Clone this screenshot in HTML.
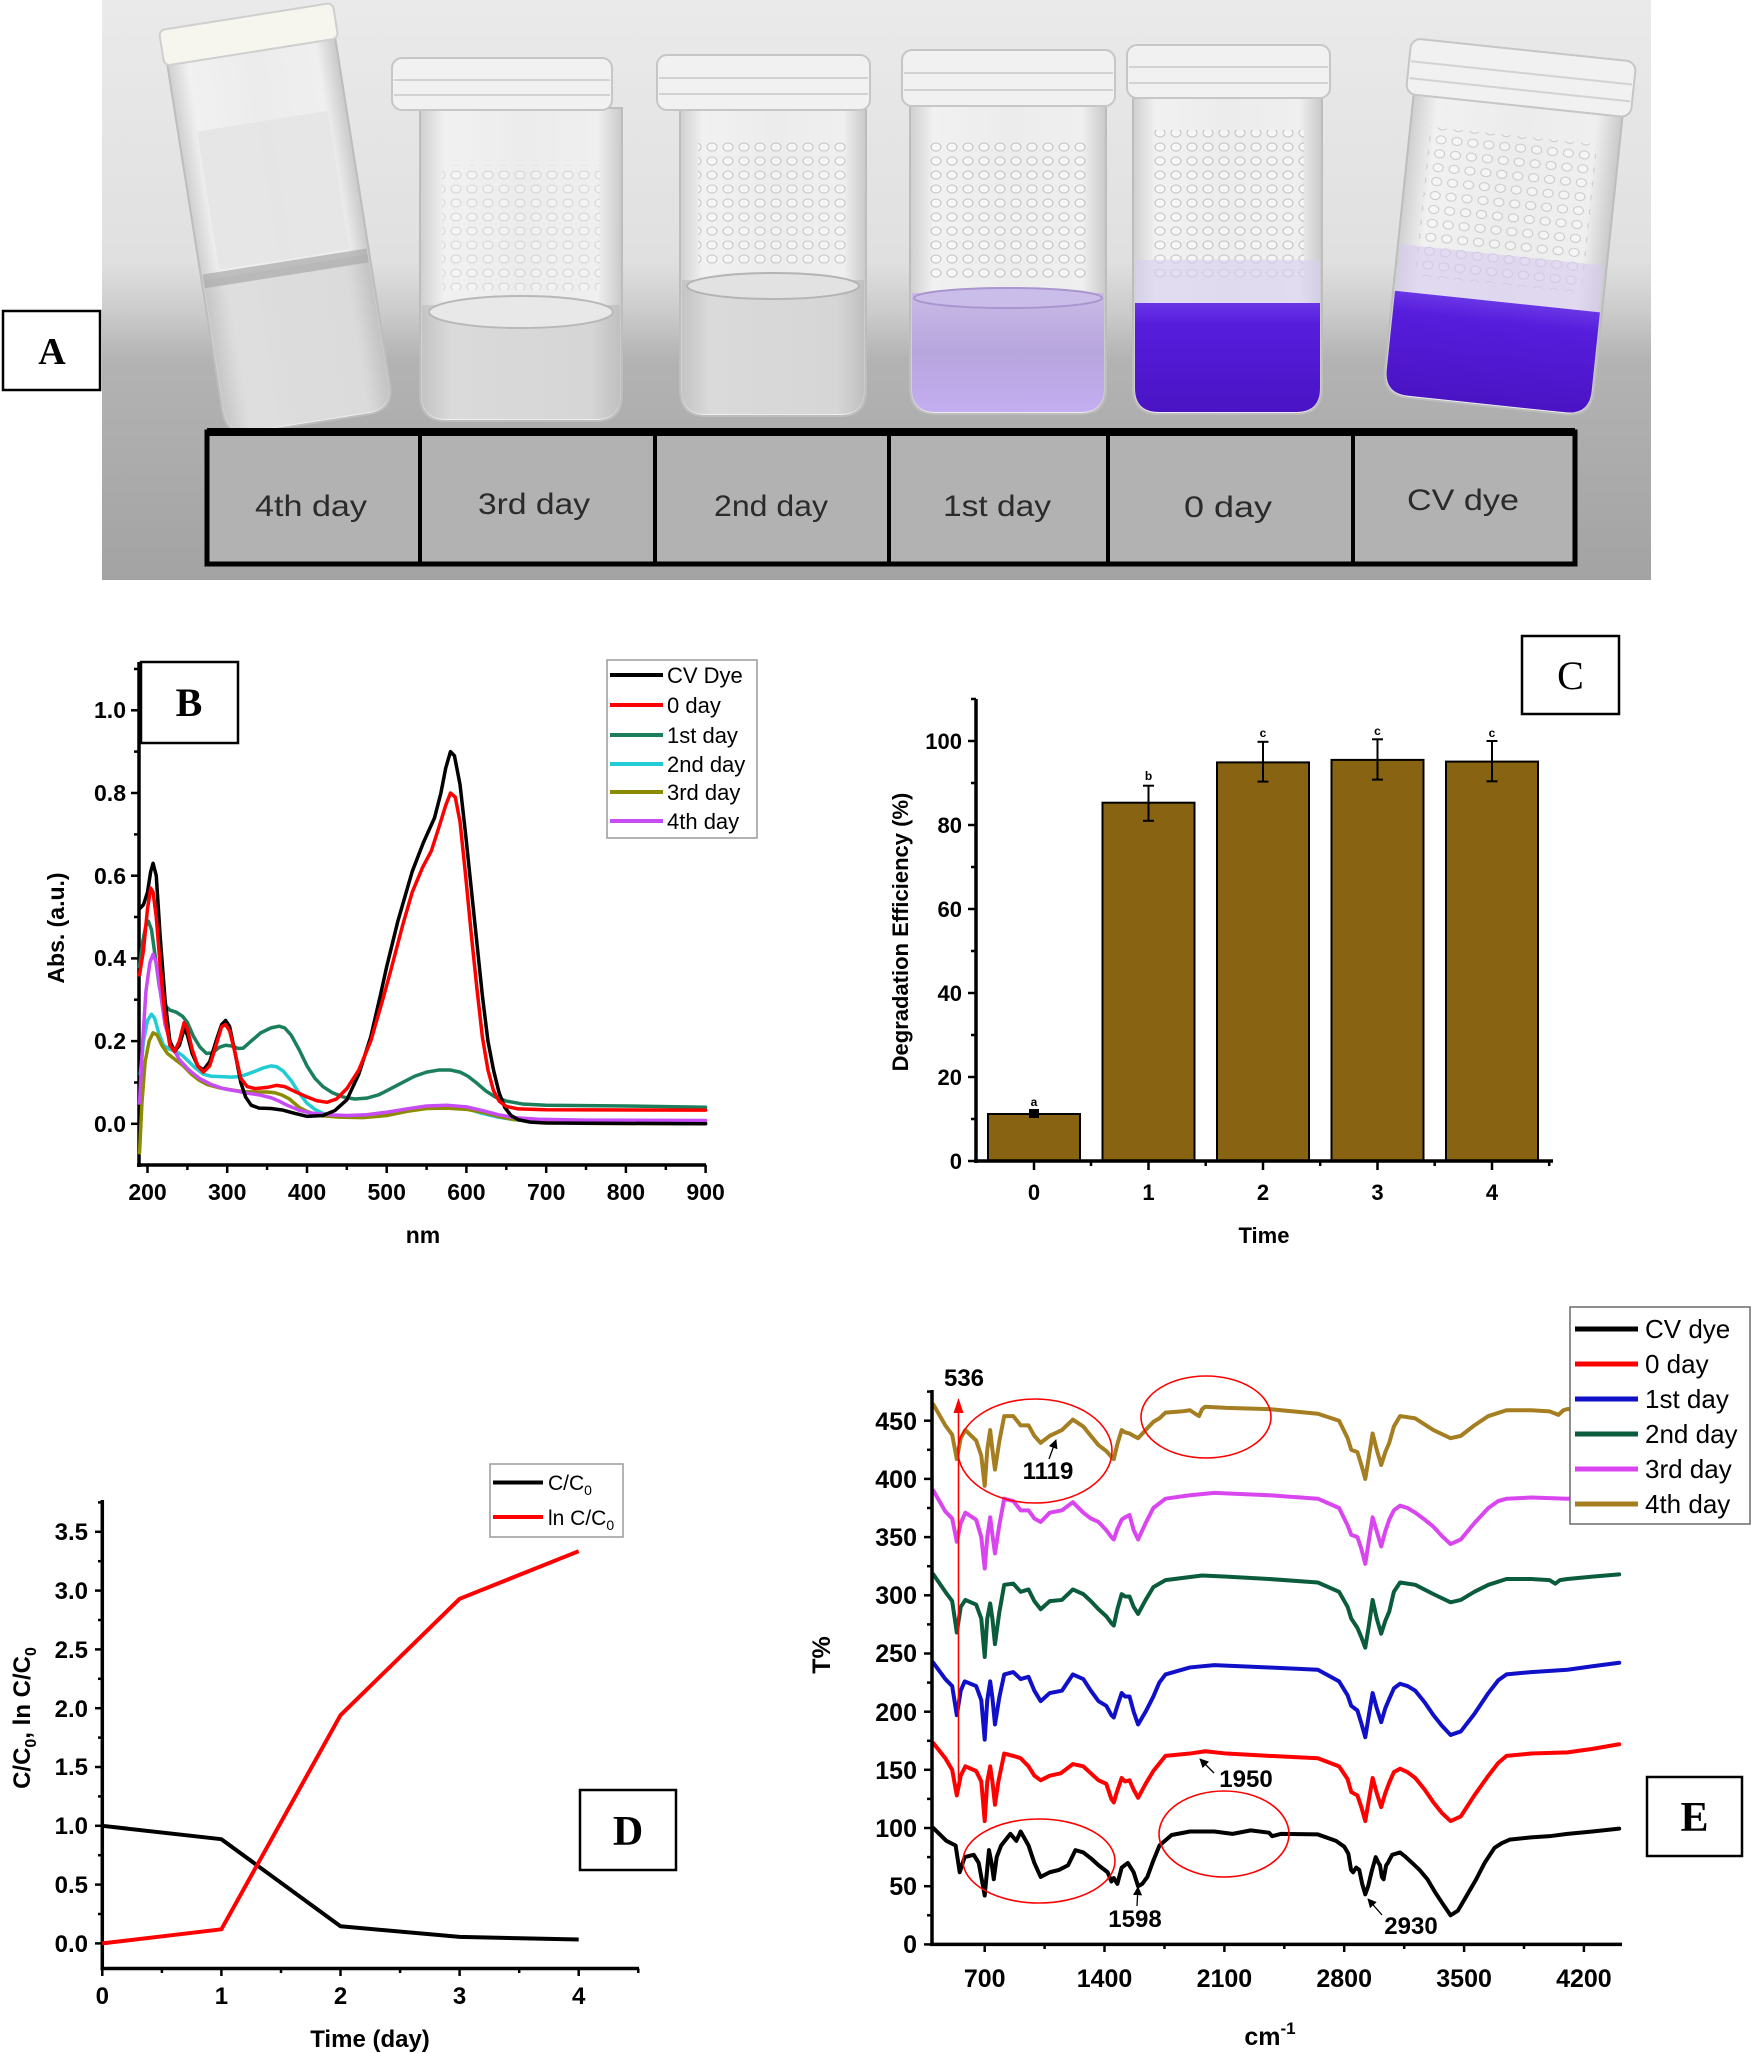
<!DOCTYPE html>
<html><head><meta charset="utf-8"><style>
html,body{margin:0;padding:0;background:#fff;}
svg{display:block;}
text{font-family:"Liberation Sans",Arial,sans-serif;}
.ser{font-family:"Liberation Serif","Times New Roman",serif;font-weight:bold;}
.tk{font-weight:bold;}
</style></head><body>
<svg width="1751" height="2053" viewBox="0 0 1751 2053" xmlns="http://www.w3.org/2000/svg">
<defs>
<linearGradient id="wall" gradientUnits="userSpaceOnUse" x1="0" y1="0" x2="0" y2="580">
<stop offset="0" stop-color="#eaeaea"/><stop offset="0.45" stop-color="#e0e0e0"/><stop offset="0.54" stop-color="#cbcbcb"/><stop offset="0.62" stop-color="#b3b3b3"/><stop offset="1" stop-color="#a3a3a3"/>
</linearGradient>
<linearGradient id="glass" x1="0" y1="0" x2="1" y2="0">
<stop offset="0" stop-color="#cfcfcf"/><stop offset="0.12" stop-color="#f1f1f1"/><stop offset="0.5" stop-color="#ececec"/><stop offset="0.88" stop-color="#efefef"/><stop offset="1" stop-color="#c9c9c9"/>
</linearGradient>
<linearGradient id="clear" x1="0" y1="0" x2="1" y2="0">
<stop offset="0" stop-color="#c4c4c4"/><stop offset="0.15" stop-color="#dadada"/><stop offset="0.85" stop-color="#d6d6d6"/><stop offset="1" stop-color="#c0c0c0"/>
</linearGradient>
<linearGradient id="purp" x1="0" y1="0" x2="0" y2="1">
<stop offset="0" stop-color="#6a35e6"/><stop offset="0.2" stop-color="#561ddc"/><stop offset="1" stop-color="#4a14c4"/>
</linearGradient>
<linearGradient id="lpurp" x1="0" y1="0" x2="0" y2="1">
<stop offset="0" stop-color="#c9bae6"/><stop offset="0.5" stop-color="#b7a5de"/><stop offset="1" stop-color="#c3aef0"/>
</linearGradient>
<pattern id="bub" width="16" height="14" patternUnits="userSpaceOnUse">
<ellipse cx="8" cy="7" rx="5" ry="4" fill="#fbfbfb" stroke="#a2a2a2" stroke-width="1"/>
</pattern>
<marker id="ar" viewBox="0 0 10 10" refX="9" refY="5" markerWidth="7" markerHeight="7" orient="auto-start-reverse">
<path d="M0,0 L10,5 L0,10 z" fill="#000"/>
</marker>
</defs>

<!-- ================= PANEL A ================= -->
<rect x="102" y="0" width="1549" height="580" fill="url(#wall)"/>

<!-- vial 1: 4th day (tilted) -->
<g transform="rotate(-9 278 220)">
<path d="M193,48 L193,400 Q193,426 219,426 L337,426 Q363,426 363,400 L363,48 Z" fill="url(#glass)" stroke="#bdbdbd" stroke-width="2"/>
<rect x="212" y="120" width="132" height="140" fill="#e4e4e4" opacity="0.8"/>
<path d="M195,268 L361,268 L361,400 Q361,424 337,424 L219,424 Q195,424 195,400 Z" fill="url(#clear)" opacity="0.8"/>
<rect x="195" y="262" width="166" height="14" fill="#a9a9a9" opacity="0.7"/>
<rect x="190" y="14" width="176" height="36" rx="6" fill="#f6f6ef" stroke="#cfcfcf" stroke-width="2"/>
</g>

<!-- vial 2: 3rd day -->
<path d="M420,108 L420,395 Q420,421 446,421 L596,421 Q622,421 622,395 L622,108 Z" fill="url(#glass)" stroke="#bdbdbd" stroke-width="2"/>
<rect x="442" y="165" width="158" height="125" fill="url(#bub)" opacity="0.35"/>
<path d="M422,305 L620,305 L620,395 Q620,419 596,419 L446,419 Q422,419 422,395 Z" fill="url(#clear)"/>
<ellipse cx="521" cy="312" rx="92" ry="16" fill="#e8e8e8" stroke="#b8b8b8" stroke-width="2"/>
<rect x="392" y="58" width="220" height="52" rx="10" fill="#f1f1f1" stroke="#c6c6c6" stroke-width="2"/>
<line x1="394" y1="80" x2="610" y2="80" stroke="#d2d2d2" stroke-width="2"/>
<line x1="394" y1="95" x2="610" y2="95" stroke="#d2d2d2" stroke-width="2"/>

<!-- vial 3: 2nd day -->
<path d="M680,108 L680,390 Q680,416 706,416 L840,416 Q866,416 866,390 L866,108 Z" fill="url(#glass)" stroke="#bdbdbd" stroke-width="2"/>
<rect x="698" y="140" width="150" height="125" fill="url(#bub)" opacity="0.55"/>
<path d="M682,280 L864,280 L864,390 Q864,414 840,414 L706,414 Q682,414 682,390 Z" fill="url(#clear)"/>
<ellipse cx="773" cy="286" rx="86" ry="13" fill="#e2e2e2" stroke="#b4b4b4" stroke-width="2"/>
<rect x="657" y="55" width="213" height="55" rx="10" fill="#f1f1f1" stroke="#c6c6c6" stroke-width="2"/>
<line x1="659" y1="78" x2="868" y2="78" stroke="#d2d2d2" stroke-width="2"/>
<line x1="659" y1="94" x2="868" y2="94" stroke="#d2d2d2" stroke-width="2"/>

<!-- vial 4: 1st day -->
<path d="M910,106 L910,388 Q910,414 936,414 L1080,414 Q1106,414 1106,388 L1106,106 Z" fill="url(#glass)" stroke="#bdbdbd" stroke-width="2"/>
<rect x="930" y="140" width="156" height="140" fill="url(#bub)" opacity="0.6"/>
<path d="M912,293 L1104,293 L1104,388 Q1104,412 1080,412 L936,412 Q912,412 912,388 Z" fill="url(#lpurp)"/>
<ellipse cx="1008" cy="298" rx="94" ry="10" fill="#cbbdea" stroke="#a996cf" stroke-width="2"/>
<rect x="902" y="50" width="213" height="56" rx="10" fill="#f1f1f1" stroke="#c6c6c6" stroke-width="2"/>
<line x1="904" y1="73" x2="1113" y2="73" stroke="#d2d2d2" stroke-width="2"/>
<line x1="904" y1="90" x2="1113" y2="90" stroke="#d2d2d2" stroke-width="2"/>

<!-- vial 5: 0 day -->
<path d="M1133,98 L1133,388 Q1133,414 1159,414 L1296,414 Q1322,414 1322,388 L1322,98 Z" fill="url(#glass)" stroke="#bdbdbd" stroke-width="2"/>
<rect x="1152" y="130" width="152" height="150" fill="url(#bub)" opacity="0.6"/>
<rect x="1136" y="260" width="184" height="45" fill="#d8cff0" opacity="0.6"/>
<path d="M1135,303 L1320,303 L1320,388 Q1320,412 1296,412 L1159,412 Q1135,412 1135,388 Z" fill="url(#purp)"/>
<rect x="1127" y="45" width="203" height="53" rx="10" fill="#f1f1f1" stroke="#c6c6c6" stroke-width="2"/>
<line x1="1129" y1="67" x2="1328" y2="67" stroke="#d2d2d2" stroke-width="2"/>
<line x1="1129" y1="83" x2="1328" y2="83" stroke="#d2d2d2" stroke-width="2"/>

<!-- vial 6: CV dye (tilted) -->
<g transform="rotate(6 1505 230)">
<path d="M1400,104 L1400,381 Q1400,407 1426,407 L1584,407 Q1610,407 1610,381 L1610,104 Z" fill="url(#glass)" stroke="#bdbdbd" stroke-width="2"/>
<rect x="1420" y="135" width="168" height="150" fill="url(#bub)" opacity="0.5"/>
<rect x="1403" y="255" width="204" height="50" fill="#d5caf0" opacity="0.6"/>
<path d="M1402,302 L1608,302 L1608,381 Q1608,405 1584,405 L1426,405 Q1402,405 1402,381 Z" fill="url(#purp)"/>
<rect x="1392" y="49" width="226" height="56" rx="10" fill="#f1f1f1" stroke="#c6c6c6" stroke-width="2"/>
<line x1="1394" y1="72" x2="1616" y2="72" stroke="#d2d2d2" stroke-width="2"/>
<line x1="1394" y1="89" x2="1616" y2="89" stroke="#d2d2d2" stroke-width="2"/>
</g>

<!-- label table -->
<rect x="207" y="432" width="1368" height="132" fill="#b2b2b2" stroke="#000" stroke-width="5"/>
<line x1="207" y1="432" x2="1575" y2="432" stroke="#000" stroke-width="8"/>
<g stroke="#000" stroke-width="4">
<line x1="420" y1="432" x2="420" y2="564"/>
<line x1="655" y1="432" x2="655" y2="564"/>
<line x1="889" y1="432" x2="889" y2="564"/>
<line x1="1108" y1="432" x2="1108" y2="564"/>
<line x1="1353" y1="432" x2="1353" y2="564"/>
</g>
<g font-size="30" fill="#2b2b2b" text-anchor="middle">
<text x="311" y="516" textLength="112" lengthAdjust="spacingAndGlyphs">4th day</text>
<text x="534" y="514" textLength="112" lengthAdjust="spacingAndGlyphs">3rd day</text>
<text x="771" y="516" textLength="114" lengthAdjust="spacingAndGlyphs">2nd day</text>
<text x="997" y="516" textLength="108" lengthAdjust="spacingAndGlyphs">1st day</text>
<text x="1228" y="517" textLength="88" lengthAdjust="spacingAndGlyphs">0 day</text>
<text x="1463" y="510" textLength="112" lengthAdjust="spacingAndGlyphs">CV dye</text>
</g>
<!-- A box -->
<rect x="3" y="311" width="97" height="79" fill="#fff" stroke="#000" stroke-width="2.5"/>
<text class="ser" x="52" y="364" font-size="38" text-anchor="middle">A</text>

<!-- ================= PANEL B ================= -->
<g stroke="#000" stroke-width="3.5" fill="none">
<line x1="139" y1="662" x2="139" y2="1167"/>
<line x1="137" y1="1165" x2="706" y2="1165"/>
</g>
<g stroke="#000" stroke-width="2.5">
<line x1="131" y1="1123.8" x2="139" y2="1123.8"/><line x1="131" y1="1041.1" x2="139" y2="1041.1"/><line x1="131" y1="958.4" x2="139" y2="958.4"/><line x1="131" y1="875.7" x2="139" y2="875.7"/><line x1="131" y1="793" x2="139" y2="793"/><line x1="131" y1="710.3" x2="139" y2="710.3"/>
<line x1="134" y1="1082.5" x2="139" y2="1082.5"/><line x1="134" y1="999.7" x2="139" y2="999.7"/><line x1="134" y1="917" x2="139" y2="917"/><line x1="134" y1="834.4" x2="139" y2="834.4"/><line x1="134" y1="751.6" x2="139" y2="751.6"/><line x1="134" y1="669" x2="139" y2="669"/>
<line x1="147.5" y1="1165" x2="147.5" y2="1173"/><line x1="227.2" y1="1165" x2="227.2" y2="1173"/><line x1="307" y1="1165" x2="307" y2="1173"/><line x1="386.7" y1="1165" x2="386.7" y2="1173"/><line x1="466.4" y1="1165" x2="466.4" y2="1173"/><line x1="546.2" y1="1165" x2="546.2" y2="1173"/><line x1="625.9" y1="1165" x2="625.9" y2="1173"/><line x1="705.6" y1="1165" x2="705.6" y2="1173"/>
<line x1="187.4" y1="1165" x2="187.4" y2="1170"/><line x1="267.1" y1="1165" x2="267.1" y2="1170"/><line x1="346.8" y1="1165" x2="346.8" y2="1170"/><line x1="426.6" y1="1165" x2="426.6" y2="1170"/><line x1="506.3" y1="1165" x2="506.3" y2="1170"/><line x1="586" y1="1165" x2="586" y2="1170"/><line x1="665.8" y1="1165" x2="665.8" y2="1170"/>
</g>
<g class="tk" font-size="23" text-anchor="end">
<text x="126" y="1132">0.0</text><text x="126" y="1049">0.2</text><text x="126" y="966">0.4</text><text x="126" y="884">0.6</text><text x="126" y="801">0.8</text><text x="126" y="718">1.0</text>
</g>
<g class="tk" font-size="23" text-anchor="middle">
<text x="147.5" y="1200">200</text><text x="227.2" y="1200">300</text><text x="307" y="1200">400</text><text x="386.7" y="1200">500</text><text x="466.4" y="1200">600</text><text x="546.2" y="1200">700</text><text x="625.9" y="1200">800</text><text x="705.6" y="1200">900</text>
<text x="423" y="1243">nm</text>
<text transform="translate(64 928) rotate(-90)">Abs. (a.u.)</text>
</g>
<g transform="translate(-11.96 1123.8) scale(0.7973 -413.5)" fill="none" stroke-linejoin="round" stroke-linecap="round">
<polyline vector-effect="non-scaling-stroke" stroke="#1a7f5a" stroke-width="3.5" points="190,0.38 194,0.44 198,0.48 201,0.49 205,0.47 210,0.4 215,0.33 220,0.29 228,0.275 236,0.27 244,0.26 250,0.245 258,0.21 266,0.185 274,0.17 282,0.172 290,0.185 298,0.19 306,0.188 314,0.182 320,0.183 330,0.2 342,0.22 355,0.232 365,0.236 372,0.232 380,0.215 390,0.18 400,0.14 410,0.11 420,0.09 432,0.075 445,0.065 460,0.06 475,0.062 490,0.07 505,0.085 520,0.1 535,0.115 550,0.125 565,0.13 580,0.13 592,0.125 602,0.115 612,0.1 624,0.08 636,0.065 650,0.055 670,0.048 700,0.045 800,0.043 900,0.04"/>
<polyline vector-effect="non-scaling-stroke" stroke="#22ccd4" stroke-width="3.5" points="191,0.12 195,0.2 200,0.25 205,0.265 209,0.255 214,0.22 220,0.19 228,0.18 236,0.175 244,0.165 252,0.15 260,0.135 270,0.12 280,0.115 292,0.114 305,0.113 315,0.114 325,0.12 335,0.127 345,0.135 355,0.14 362,0.138 370,0.128 380,0.105 390,0.075 400,0.05 410,0.035 420,0.025 435,0.02 450,0.017 470,0.016 490,0.02 510,0.028 530,0.036 550,0.041 570,0.042 590,0.04 605,0.034 620,0.025 640,0.016 660,0.01 690,0.006 750,0.004 900,0.003"/>
<polyline vector-effect="non-scaling-stroke" stroke="#8c8c00" stroke-width="3.5" points="190,-0.07 193,0.05 197,0.15 202,0.2 207,0.22 212,0.215 218,0.19 225,0.17 235,0.155 245,0.14 255,0.12 265,0.105 275,0.095 290,0.087 305,0.082 320,0.078 335,0.077 350,0.077 360,0.075 368,0.07 378,0.06 390,0.04 400,0.03 415,0.02 440,0.016 470,0.015 500,0.02 525,0.03 550,0.037 575,0.038 600,0.035 620,0.028 640,0.018 660,0.01 690,0.004 750,0.001 900,0"/>
<polyline vector-effect="non-scaling-stroke" stroke="#c84cf5" stroke-width="3.5" points="190,0.05 194,0.2 198,0.32 203,0.39 207,0.41 211,0.39 216,0.32 222,0.24 230,0.19 240,0.155 252,0.13 265,0.11 280,0.095 295,0.085 310,0.08 325,0.074 340,0.07 355,0.063 365,0.055 375,0.045 390,0.033 405,0.026 425,0.022 450,0.02 475,0.022 500,0.028 525,0.036 550,0.043 575,0.045 600,0.041 620,0.032 640,0.022 660,0.015 690,0.011 750,0.009 900,0.008"/>
<polyline vector-effect="non-scaling-stroke" stroke="#000" stroke-width="3.5" points="190,0.52 195,0.53 200,0.56 204,0.61 207,0.63 211,0.6 216,0.45 222,0.3 228,0.2 234,0.175 240,0.19 246,0.23 250,0.215 256,0.17 263,0.14 270,0.13 278,0.15 286,0.2 293,0.24 298,0.25 303,0.235 310,0.17 317,0.1 323,0.065 330,0.045 340,0.038 355,0.037 370,0.033 385,0.025 400,0.018 420,0.02 435,0.032 450,0.058 465,0.12 480,0.21 492,0.31 500,0.38 514,0.49 532,0.61 546,0.68 560,0.74 568,0.8 574,0.86 580,0.9 585,0.89 592,0.82 599,0.7 606,0.57 613,0.44 620,0.31 627,0.2 634,0.13 641,0.075 648,0.04 656,0.02 665,0.01 680,0.004 700,0.002 900,0"/>
<polyline vector-effect="non-scaling-stroke" stroke="#ff0000" stroke-width="3.5" points="190,0.36 195,0.42 200,0.52 204,0.57 207,0.56 211,0.5 216,0.38 222,0.26 228,0.19 234,0.175 240,0.2 246,0.245 250,0.23 256,0.18 263,0.14 270,0.125 278,0.14 286,0.19 293,0.235 298,0.24 303,0.225 310,0.17 317,0.11 325,0.09 335,0.085 350,0.088 362,0.093 372,0.09 385,0.078 400,0.065 412,0.056 425,0.052 437,0.06 450,0.085 465,0.13 480,0.2 495,0.3 505,0.37 520,0.48 532,0.56 545,0.62 556,0.66 566,0.72 574,0.77 580,0.8 586,0.79 592,0.73 599,0.6 606,0.46 613,0.33 620,0.21 627,0.13 634,0.08 641,0.055 650,0.042 665,0.036 700,0.034 900,0.033"/>
</g>
<!-- B legend -->
<rect x="607" y="660" width="150" height="178" fill="#fff" stroke="#9a9a9a" stroke-width="1.5"/>
<g stroke-width="4">
<line x1="610" y1="675" x2="663" y2="675" stroke="#000"/>
<line x1="610" y1="705" x2="663" y2="705" stroke="#ff0000"/>
<line x1="610" y1="735" x2="663" y2="735" stroke="#1a7f5a"/>
<line x1="610" y1="764" x2="663" y2="764" stroke="#22ccd4"/>
<line x1="610" y1="792" x2="663" y2="792" stroke="#8c8c00"/>
<line x1="610" y1="821" x2="663" y2="821" stroke="#c84cf5"/>
</g>
<g font-size="22">
<text x="667" y="683">CV Dye</text><text x="667" y="713">0 day</text><text x="667" y="743">1st day</text><text x="667" y="772">2nd day</text><text x="667" y="800">3rd day</text><text x="667" y="829">4th day</text>
</g>
<rect x="141" y="662" width="97" height="81" fill="#fff" stroke="#000" stroke-width="2.5"/>
<text class="ser" x="189" y="716" font-size="40" text-anchor="middle">B</text>

<!-- ================= PANEL C ================= -->
<g fill="#876312" stroke="#000" stroke-width="2">
<rect x="988" y="1114" width="92" height="47"/>
<rect x="1102.5" y="802.7" width="92" height="358.3"/>
<rect x="1217" y="762.4" width="92" height="398.6"/>
<rect x="1331.5" y="759.9" width="92" height="401.1"/>
<rect x="1446" y="761.6" width="92" height="399.4"/>
</g>
<g stroke="#000" stroke-width="2">
<line x1="1034" y1="1110" x2="1034" y2="1117"/><rect x="1030" y="1110" width="8" height="7" fill="#000"/>
<line x1="1148.5" y1="785.7" x2="1148.5" y2="820.8"/><line x1="1143" y1="785.7" x2="1154" y2="785.7"/><line x1="1143" y1="820.8" x2="1154" y2="820.8"/>
<line x1="1263" y1="741.8" x2="1263" y2="781.6"/><line x1="1257.5" y1="741.8" x2="1268.5" y2="741.8"/><line x1="1257.5" y1="781.6" x2="1268.5" y2="781.6"/>
<line x1="1377.5" y1="739.3" x2="1377.5" y2="779.6"/><line x1="1372" y1="739.3" x2="1383" y2="739.3"/><line x1="1372" y1="779.6" x2="1383" y2="779.6"/>
<line x1="1492" y1="741" x2="1492" y2="781.3"/><line x1="1486.5" y1="741" x2="1497.5" y2="741"/><line x1="1486.5" y1="781.3" x2="1497.5" y2="781.3"/>
</g>
<g class="tk" font-size="12" text-anchor="middle">
<text x="1034" y="1106">a</text><text x="1148.5" y="780">b</text><text x="1263" y="737">c</text><text x="1377.5" y="735">c</text><text x="1492" y="737">c</text>
</g>
<g stroke="#000" stroke-width="3.5">
<line x1="976" y1="699" x2="976" y2="1163"/>
<line x1="974" y1="1161" x2="1553" y2="1161"/>
</g>
<g stroke="#000" stroke-width="2.5">
<line x1="968" y1="1161" x2="976" y2="1161"/><line x1="968" y1="1077" x2="976" y2="1077"/><line x1="968" y1="993" x2="976" y2="993"/><line x1="968" y1="909" x2="976" y2="909"/><line x1="968" y1="825" x2="976" y2="825"/><line x1="968" y1="741" x2="976" y2="741"/>
<line x1="971" y1="1119" x2="976" y2="1119"/><line x1="971" y1="1035" x2="976" y2="1035"/><line x1="971" y1="951" x2="976" y2="951"/><line x1="971" y1="867" x2="976" y2="867"/><line x1="971" y1="783" x2="976" y2="783"/><line x1="971" y1="699" x2="976" y2="699"/>
<line x1="1034" y1="1161" x2="1034" y2="1170"/><line x1="1148.5" y1="1161" x2="1148.5" y2="1170"/><line x1="1263" y1="1161" x2="1263" y2="1170"/><line x1="1377.5" y1="1161" x2="1377.5" y2="1170"/><line x1="1492" y1="1161" x2="1492" y2="1170"/>
<line x1="1091" y1="1161" x2="1091" y2="1166"/><line x1="1205.7" y1="1161" x2="1205.7" y2="1166"/><line x1="1320.2" y1="1161" x2="1320.2" y2="1166"/><line x1="1434.7" y1="1161" x2="1434.7" y2="1166"/><line x1="1549.2" y1="1161" x2="1549.2" y2="1166"/>
</g>
<g class="tk" font-size="22" text-anchor="end">
<text x="962" y="1169">0</text><text x="962" y="1085">20</text><text x="962" y="1001">40</text><text x="962" y="917">60</text><text x="962" y="833">80</text><text x="962" y="749">100</text>
</g>
<g class="tk" font-size="22" text-anchor="middle">
<text x="1034" y="1200">0</text><text x="1148.5" y="1200">1</text><text x="1263" y="1200">2</text><text x="1377.5" y="1200">3</text><text x="1492" y="1200">4</text>
<text x="1264" y="1243">Time</text>
<text transform="translate(908 932) rotate(-90)">Degradation Efficiency (%)</text>
</g>
<rect x="1522" y="636" width="97" height="78" fill="#fff" stroke="#000" stroke-width="2.5"/>
<text class="ser" x="1570.5" y="689" font-size="40" text-anchor="middle" font-weight="normal" style="font-weight:normal">C</text>

<!-- ================= PANEL D ================= -->
<g stroke="#000" stroke-width="3.5">
<line x1="102.3" y1="1500" x2="102.3" y2="1970"/>
<line x1="100.5" y1="1968.5" x2="639" y2="1968.5"/>
</g>
<g stroke="#000" stroke-width="2.5">
<line x1="95" y1="1943.4" x2="102" y2="1943.4"/><line x1="95" y1="1884.6" x2="102" y2="1884.6"/><line x1="95" y1="1825.8" x2="102" y2="1825.8"/><line x1="95" y1="1767" x2="102" y2="1767"/><line x1="95" y1="1708.2" x2="102" y2="1708.2"/><line x1="95" y1="1649.4" x2="102" y2="1649.4"/><line x1="95" y1="1590.6" x2="102" y2="1590.6"/><line x1="95" y1="1531.8" x2="102" y2="1531.8"/>
<line x1="98" y1="1914" x2="102" y2="1914"/><line x1="98" y1="1855.2" x2="102" y2="1855.2"/><line x1="98" y1="1796.4" x2="102" y2="1796.4"/><line x1="98" y1="1737.6" x2="102" y2="1737.6"/><line x1="98" y1="1678.8" x2="102" y2="1678.8"/><line x1="98" y1="1620" x2="102" y2="1620"/><line x1="98" y1="1561.2" x2="102" y2="1561.2"/><line x1="98" y1="1502.4" x2="102" y2="1502.4"/>
<line x1="102.3" y1="1968.5" x2="102.3" y2="1976"/><line x1="221.4" y1="1968.5" x2="221.4" y2="1976"/><line x1="340.5" y1="1968.5" x2="340.5" y2="1976"/><line x1="459.6" y1="1968.5" x2="459.6" y2="1976"/><line x1="578.7" y1="1968.5" x2="578.7" y2="1976"/>
<line x1="161.9" y1="1968.5" x2="161.9" y2="1973"/><line x1="281" y1="1968.5" x2="281" y2="1973"/><line x1="400.1" y1="1968.5" x2="400.1" y2="1973"/><line x1="519.2" y1="1968.5" x2="519.2" y2="1973"/><line x1="638.3" y1="1968.5" x2="638.3" y2="1973"/>
</g>
<g class="tk" font-size="24" text-anchor="end">
<text x="88" y="1952">0.0</text><text x="88" y="1893">0.5</text><text x="88" y="1834">1.0</text><text x="88" y="1775">1.5</text><text x="88" y="1717">2.0</text><text x="88" y="1658">2.5</text><text x="88" y="1599">3.0</text><text x="88" y="1540">3.5</text>
</g>
<g class="tk" font-size="24" text-anchor="middle">
<text x="102.3" y="2004">0</text><text x="221.4" y="2004">1</text><text x="340.5" y="2004">2</text><text x="459.6" y="2004">3</text><text x="578.7" y="2004">4</text>
<text x="370" y="2047">Time (day)</text>
<text transform="translate(30 1718) rotate(-90)">C/C<tspan font-size="16" dy="6">0</tspan><tspan dy="-6">, ln C/C</tspan><tspan font-size="16" dy="6">0</tspan></text>
</g>
<g fill="none" stroke-width="4" stroke-linejoin="round">
<polyline stroke="#000" points="102.3,1825.8 221.4,1839.2 340.5,1926.3 459.6,1936.9 578.7,1939.5"/>
<polyline stroke="#ff0000" points="102.3,1943.4 221.4,1929.3 340.5,1715.2 459.6,1598.8 578.7,1551.2"/>
</g>
<rect x="490" y="1464" width="133" height="73" fill="#fff" stroke="#9a9a9a" stroke-width="1.5"/>
<line x1="493" y1="1482.5" x2="543" y2="1482.5" stroke="#000" stroke-width="4"/>
<line x1="493" y1="1517" x2="543" y2="1517" stroke="#ff0000" stroke-width="4"/>
<g font-size="21">
<text x="548" y="1490">C/C<tspan font-size="14" dy="5">0</tspan></text>
<text x="548" y="1525">ln C/C<tspan font-size="14" dy="5">0</tspan></text>
</g>
<rect x="580" y="1790" width="96" height="80" fill="#fff" stroke="#000" stroke-width="2.5"/>
<text class="ser" x="628" y="1845" font-size="42" text-anchor="middle">D</text>

<!-- ================= PANEL E ================= -->
<g transform="translate(864.86 1944.4) scale(0.1712 -1.1637)" fill="none" stroke-linejoin="round" stroke-linecap="round">
<polyline vector-effect="non-scaling-stroke" stroke="#000" stroke-width="4" points="400,100 476,89 530,85 554,62 583,75 636,77 665,70 700,42 725,81 740,70 753,56 770,75 796,85 850,95 885,89 910,97 956,85 990,70 1027,58 1080,62 1134,64 1187,68 1230,81 1276,79 1320,74 1365,68 1418,62 1440,54 1454,57 1475,52 1500,66 1536,70 1570,62 1596,50 1620,52 1650,58 1685,72 1721,85 1792,94 1899,97 2041,97 2148,95 2254,98 2361,96 2379,93 2432,95 2646,94.5 2752,89 2800,84 2824,78 2840,64 2852,62 2870,66 2888,64 2905,52 2923,43 2940,50 2959,62 2984,75 3000,70 3009,68 3020,58 3030,56 3045,68 3055,70 3080,77 3126,79 3160,75 3197,70 3240,64 3286,56 3330,45 3375,35 3421,25 3464,29 3500,38 3571,56 3620,70 3678,83 3720,87 3766,90 3891,92 4000,93 4104,95 4250,97 4406,99.5"/>
<polyline vector-effect="non-scaling-stroke" stroke="#ff0000" stroke-width="4" points="400,173 470,160 510,150 537,128 560,145 587,153 650,149 680,140 700,106 715,140 732,153 745,140 760,120 780,140 814,164 867,162 910,160 956,153 990,145 1027,141 1080,145 1144,147 1215,155 1276,153 1320,147 1365,141 1410,138 1440,125 1454,122 1470,130 1500,143 1520,140 1546,141 1570,133 1596,126 1640,138 1685,149 1756,162 1899,164 1988,166 2112,164 2361,162 2646,160 2770,153 2820,142 2841,131 2877,128 2900,118 2923,106 2945,125 2966,143 2990,130 3016,118 3040,130 3063,139 3090,148 3126,151 3170,148 3215,143 3270,133 3321,122 3370,113 3421,106 3481,110 3560,128 3642,145 3700,156 3748,162 3891,164 4104,165 4250,168 4406,172"/>
<polyline vector-effect="non-scaling-stroke" stroke="#1010c8" stroke-width="4" points="400,242 470,228 510,222 537,197 560,218 583,226 650,222 680,210 700,176 715,210 732,226 745,212 760,189 785,212 814,232 867,234 910,228 956,230 990,218 1027,209 1080,216 1151,218 1215,232 1276,228 1320,218 1365,209 1410,205 1440,197 1454,195 1475,205 1500,216 1520,213 1546,213 1570,200 1596,189 1640,200 1685,213 1720,225 1756,232 1899,238 2041,240 2361,238 2646,236 2770,226 2820,214 2841,205 2877,201 2900,190 2923,178 2945,198 2966,216 2990,203 3016,191 3040,203 3063,211 3090,220 3126,224 3170,222 3215,218 3270,208 3321,197 3370,188 3421,180 3481,183 3560,198 3642,216 3700,227 3748,232 3891,234 4104,236 4250,239 4406,242"/>
<polyline vector-effect="non-scaling-stroke" stroke="#0a5c3c" stroke-width="4" points="400,318 470,303 510,295 537,268 560,290 587,296 650,292 680,280 700,247 715,280 732,293 745,280 760,258 785,285 814,309 867,310 910,303 956,305 990,295 1027,288 1080,295 1151,296 1215,305 1276,301 1320,295 1365,288 1410,282 1440,276 1454,274 1475,288 1500,301 1520,299 1546,299 1570,290 1596,284 1640,296 1685,307 1756,313 1970,317 2112,316 2361,314 2646,311 2770,303 2820,290 2841,280 2877,272 2900,264 2923,255 2945,275 2966,296 2990,280 3016,267 3040,278 3063,286 3090,303 3126,311 3215,309 3321,301 3421,294 3481,296 3560,303 3642,309 3748,314 3891,314 4000,313 4033,310 4060,313 4104,314 4250,316 4406,318"/>
<polyline vector-effect="non-scaling-stroke" stroke="#d946ef" stroke-width="4" points="400,390 470,372 510,366 537,346 560,362 587,371 650,365 680,350 700,323 715,350 732,367 745,352 760,336 785,360 814,383 867,381 910,373 956,373 990,366 1027,363 1080,371 1151,373 1215,380 1276,371 1320,366 1365,363 1410,356 1440,350 1454,348 1475,357 1500,365 1520,367 1546,369 1570,356 1596,348 1640,362 1685,375 1756,383 1899,386 2041,388 2361,386 2646,383 2770,375 2820,360 2841,352 2877,350 2900,340 2923,327 2945,348 2966,367 2990,355 3016,342 3040,355 3063,365 3090,373 3126,377 3170,375 3215,371 3270,365 3321,359 3370,351 3421,344 3481,348 3560,362 3642,375 3700,381 3748,383 3891,384 4104,383 4250,385 4406,388"/>
<polyline vector-effect="non-scaling-stroke" stroke="#a57e22" stroke-width="4" points="400,464 470,446 510,438 537,417 560,435 587,442 650,433 680,420 700,394 715,425 732,442 745,425 760,408 785,432 814,454 867,454 910,446 956,446 990,437 1027,431 1080,437 1151,442 1215,451 1276,445 1320,437 1365,429 1410,424 1440,419 1454,417 1475,430 1500,442 1520,440 1546,439 1570,437 1596,435 1640,442 1685,449 1720,452 1756,457 1850,458 1899,459 1930,456 1952,454 1970,460 1988,462 2112,461 2361,460 2646,456 2770,450 2820,435 2841,425 2877,423 2900,412 2923,400 2945,420 2966,439 2990,425 3016,412 3040,423 3063,431 3090,445 3126,454 3215,452 3321,442 3421,435 3481,437 3560,446 3642,454 3748,459 3891,459 4000,458 4051,455 4080,459 4104,460 4250,461 4406,462"/>
</g>
<g stroke="#000" stroke-width="3.5">
<line x1="932" y1="1390" x2="932" y2="1946"/>
<line x1="930" y1="1944.4" x2="1622" y2="1944.4"/>
</g>
<g stroke="#000" stroke-width="2.5">
<line x1="924" y1="1944.4" x2="932" y2="1944.4"/><line x1="924" y1="1886.2" x2="932" y2="1886.2"/><line x1="924" y1="1828" x2="932" y2="1828"/><line x1="924" y1="1769.8" x2="932" y2="1769.8"/><line x1="924" y1="1711.7" x2="932" y2="1711.7"/><line x1="924" y1="1653.5" x2="932" y2="1653.5"/><line x1="924" y1="1595.3" x2="932" y2="1595.3"/><line x1="924" y1="1537.1" x2="932" y2="1537.1"/><line x1="924" y1="1478.9" x2="932" y2="1478.9"/><line x1="924" y1="1420.7" x2="932" y2="1420.7"/>
<line x1="927" y1="1915.3" x2="932" y2="1915.3"/><line x1="927" y1="1857.1" x2="932" y2="1857.1"/><line x1="927" y1="1798.9" x2="932" y2="1798.9"/><line x1="927" y1="1740.8" x2="932" y2="1740.8"/><line x1="927" y1="1682.6" x2="932" y2="1682.6"/><line x1="927" y1="1624.4" x2="932" y2="1624.4"/><line x1="927" y1="1566.2" x2="932" y2="1566.2"/><line x1="927" y1="1508" x2="932" y2="1508"/><line x1="927" y1="1449.8" x2="932" y2="1449.8"/><line x1="927" y1="1391.6" x2="932" y2="1391.6"/>
<line x1="984.7" y1="1944.4" x2="984.7" y2="1952"/><line x1="1104.5" y1="1944.4" x2="1104.5" y2="1952"/><line x1="1224.4" y1="1944.4" x2="1224.4" y2="1952"/><line x1="1344.2" y1="1944.4" x2="1344.2" y2="1952"/><line x1="1464.1" y1="1944.4" x2="1464.1" y2="1952"/><line x1="1583.9" y1="1944.4" x2="1583.9" y2="1952"/>
<line x1="1044.6" y1="1944.4" x2="1044.6" y2="1949"/><line x1="1164.5" y1="1944.4" x2="1164.5" y2="1949"/><line x1="1284.3" y1="1944.4" x2="1284.3" y2="1949"/><line x1="1404.2" y1="1944.4" x2="1404.2" y2="1949"/><line x1="1524" y1="1944.4" x2="1524" y2="1949"/>
</g>
<g class="tk" font-size="25" text-anchor="end">
<text x="917" y="1953">0</text><text x="917" y="1895">50</text><text x="917" y="1837">100</text><text x="917" y="1779">150</text><text x="917" y="1721">200</text><text x="917" y="1662">250</text><text x="917" y="1604">300</text><text x="917" y="1546">350</text><text x="917" y="1488">400</text><text x="917" y="1430">450</text>
</g>
<g class="tk" font-size="25" text-anchor="middle">
<text x="984.7" y="1987">700</text><text x="1104.5" y="1987">1400</text><text x="1224.4" y="1987">2100</text><text x="1344.2" y="1987">2800</text><text x="1464.1" y="1987">3500</text><text x="1583.9" y="1987">4200</text>
<text x="1270" y="2045">cm<tspan font-size="17" dy="-11">-1</tspan></text>
<text transform="translate(830 1655) rotate(-90)">T%</text>
</g>
<!-- annotations -->
<g fill="none" stroke="#ff0000" stroke-width="1.6">
<ellipse cx="1035" cy="1451" rx="77" ry="52"/>
<ellipse cx="1206" cy="1417" rx="65" ry="41"/>
<ellipse cx="1039" cy="1861" rx="76" ry="42"/>
<ellipse cx="1224" cy="1834" rx="65" ry="43"/>
<line x1="958.5" y1="1780" x2="958.5" y2="1410"/>
</g>
<polygon points="958.5,1398 953.5,1413 963.5,1413" fill="#ff0000"/>
<g stroke="#000" stroke-width="1.3" fill="none">
<line x1="1049" y1="1459" x2="1056" y2="1440" marker-end="url(#ar)"/>
<line x1="1214" y1="1773" x2="1200" y2="1759" marker-end="url(#ar)"/>
<line x1="1137" y1="1906" x2="1138" y2="1887" marker-end="url(#ar)"/>
<line x1="1382" y1="1915" x2="1368" y2="1899" marker-end="url(#ar)"/>
</g>
<g class="tk" font-size="24" text-anchor="middle">
<text x="964" y="1386">536</text>
<text x="1048" y="1479">1119</text>
<text x="1246" y="1787">1950</text>
<text x="1135" y="1927">1598</text>
<text x="1411" y="1934">2930</text>
</g>
<!-- E legend -->
<rect x="1570" y="1307" width="180" height="217" fill="#fff" stroke="#6a6a6a" stroke-width="1.5"/>
<g stroke-width="5">
<line x1="1575" y1="1329" x2="1638" y2="1329" stroke="#000"/>
<line x1="1575" y1="1364" x2="1638" y2="1364" stroke="#ff0000"/>
<line x1="1575" y1="1399" x2="1638" y2="1399" stroke="#1010c8"/>
<line x1="1575" y1="1434" x2="1638" y2="1434" stroke="#0a5c3c"/>
<line x1="1575" y1="1469" x2="1638" y2="1469" stroke="#d946ef"/>
<line x1="1575" y1="1504" x2="1638" y2="1504" stroke="#a57e22"/>
</g>
<g font-size="26">
<text x="1645" y="1338">CV dye</text><text x="1645" y="1373">0 day</text><text x="1645" y="1408">1st day</text><text x="1645" y="1443">2nd day</text><text x="1645" y="1478">3rd day</text><text x="1645" y="1513">4th day</text>
</g>
<rect x="1647" y="1777" width="95" height="79" fill="#fff" stroke="#000" stroke-width="2.5"/>
<text class="ser" x="1694.5" y="1831" font-size="42" text-anchor="middle">E</text>
</svg>
</body></html>
